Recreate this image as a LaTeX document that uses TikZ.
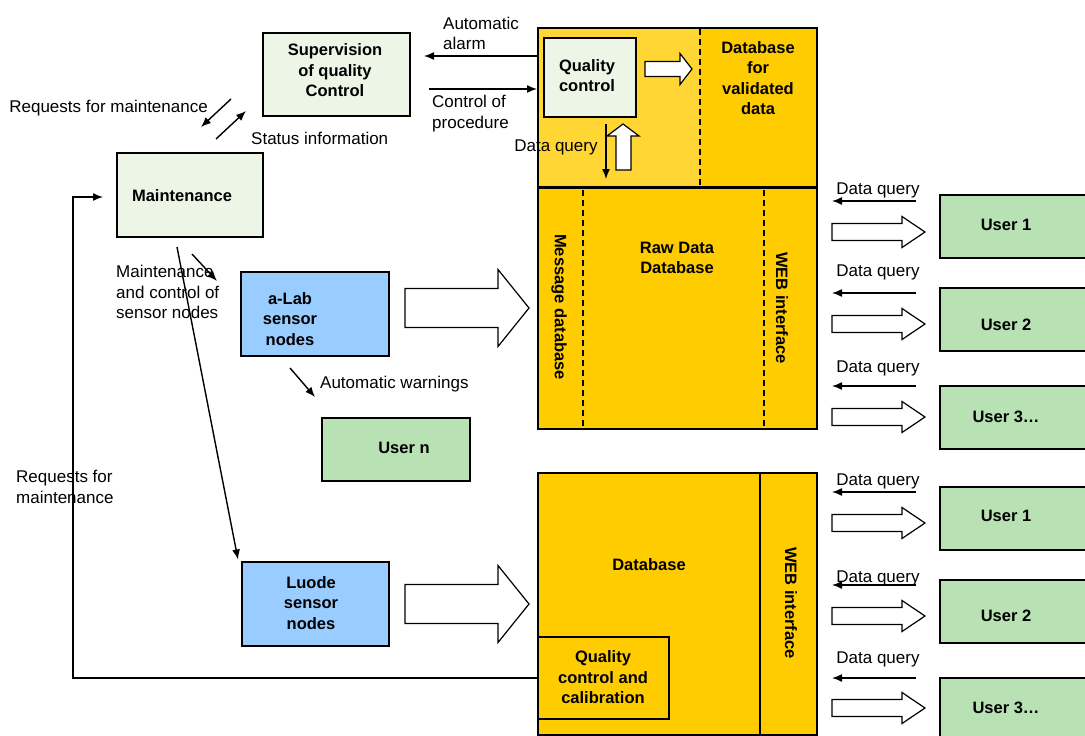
\documentclass[tikz,border=0pt]{standalone}
\usepackage{fontspec}
\setmainfont{Liberation Sans}
\usetikzlibrary{arrows.meta}
\definecolor{palegreen}{HTML}{ECF5E6}
\definecolor{usergreen}{HTML}{B9E2B4}
\definecolor{sensorblue}{HTML}{99CCFF}
\definecolor{dbyellow}{HTML}{FFCC00}
\definecolor{dblight}{HTML}{FFD633}
% hollow block arrow: x start, x tip, y, half shaft, half head, head length
\newcommand{\fatarrow}[6]{%
  \filldraw[fatline] (#1,#3-#4) -- (#2-#6,#3-#4) -- (#2-#6,#3-#5) -- (#2,#3)
    -- (#2-#6,#3+#5) -- (#2-#6,#3+#4) -- (#1,#3+#4) -- cycle;}

\begin{document}
\begin{tikzpicture}[x=1pt,y=-1pt,
		box/.style={draw=black,line width=2pt,inner sep=0pt},
		flow/.style={->,>={Latex[length=10pt,width=8pt]},line width=1.4pt},
		fatline/.style={draw=black,fill=white,line width=1.2pt},
		divider/.style={draw=black,line width=1.5pt,dash pattern=on 6pt off 4pt},
		txt/.style={font=\fontsize{17}{20.5}\selectfont,align=left,inner sep=0pt},
		btxt/.style={font=\fontsize{16.5}{20.5}\selectfont\bfseries,align=center,inner sep=0pt}
	]
		\useasboundingbox (0,0) rectangle (1085,736);

		% left side boxes
		\node[box,fill=palegreen,minimum width=147pt,minimum height=83pt] (sup) at (336.5,74.5) {};
		\node[btxt] at (335,70.5) {Supervision\\of quality\\Control};
		\node[box,fill=palegreen,minimum width=146pt,minimum height=84pt] (maint) at (190,195) {};
		\node[btxt] at (182,196) {Maintenance};
		\node[box,fill=sensorblue,minimum width=148pt,minimum height=84pt] (alab) at (315,314) {};
		\node[btxt] at (290,319) {a-Lab\\sensor\\nodes};
		\node[box,fill=usergreen,minimum width=148pt,minimum height=63pt] (usern) at (396,449.5) {};
		\node[btxt] at (404,448) {User n};
		\node[box,fill=sensorblue,minimum width=147pt,minimum height=84pt] (luode) at (315.5,603.5) {};
		\node[btxt] at (311,603) {Luode\\sensor\\nodes};

		% validated data
		\fill[dblight] (538,28) rectangle (700,187);
		\fill[dbyellow] (700,28) rectangle (817,187);
		\node[box,minimum width=279pt,minimum height=159pt] (valdb) at (677.5,107.5) {};
		\draw[divider] (700,29) -- (700,186);
		\node[btxt] at (758,78) {Database\\for\\validated\\data};
		\node[box,fill=palegreen,minimum width=92pt,minimum height=79pt] (qc) at (590,77.5) {};
		\node[btxt] at (587,75.5) {Quality\\control};
		\fatarrow{645}{692}{69}{7.5}{15.5}{12}
		\filldraw[fatline] (616,170) -- (616,136) -- (607,136) -- (623,124)
			-- (639,136) -- (631,136) -- (631,170) -- cycle;
		\draw[flow] ([xshift=16pt,yshift=-6pt]qc.south) -- ([xshift=16pt,yshift=-61pt]qc.south);
		\node[txt] at (556,147) {Data query};

		% raw data
		\node[box,fill=dbyellow,minimum width=279pt,minimum height=241pt] (rawdb) at (677.5,308.5) {};
		\draw[divider] (583,190) -- (583,428);
		\draw[divider] (764,190) -- (764,428);
		\node[btxt,rotate=-90] at (559,307) {Message database};
		\node[btxt] at (677,258) {Raw Data\\Database};
		\node[btxt,rotate=-90] at (782,308) {WEB interface};

		% luode database
		\node[box,fill=dbyellow,minimum width=279pt,minimum height=262pt] (lowdb) at (677.5,604) {};
		\draw[line width=2pt] (760,473) -- (760,735);
		\node[btxt] at (649,565) {Database};
		\node[btxt,rotate=-90] at (791,603) {WEB interface};
		\node[box,minimum width=131pt,minimum height=82pt] (qcal) at (603.5,678) {};
		\node[btxt] at (603,677.5) {Quality\\control and\\calibration};

		% users
		\foreach \n/\y/\t/\ty in {user1/226.5/User 1/225,user2/319/User 2/325,user3/417/User 3…/417,
			luser1/518.5/User 1/516,luser2/611.7/User 2/616,luser3/709.5/User 3…/708}{
			\node[box,fill=usergreen,minimum width=147pt,minimum height=63pt] (\n) at (1013.5,\y) {};
			\node[btxt] at (1006,\ty) {\t};
		}
		\foreach \y in {232,324,417,523,616,708}{
			\fatarrow{832}{925}{\y}{8.5}{15.5}{23}
		}
		\foreach \q/\l in {201/190,293/272,386/368,492/481,585/578,678/659}{
			\draw[flow] (916,\q) -- (832,\q);
			\node[txt] at (878,\l) {Data query};
		}

		\fatarrow{405}{529}{308}{19.5}{38.5}{31}
		\fatarrow{405}{529}{604}{19.5}{38.5}{31}

		% thin arrows
		\draw[flow] ([yshift=51.5pt]valdb.west) -- ([xshift=13pt,yshift=18.5pt]sup.east);
		\node[txt,anchor=west] at (443,33.5) {Automatic\\alarm};
		\draw[flow] ([xshift=18pt,yshift=-14.5pt]sup.east) -- ([xshift=-6pt,yshift=-11.5pt]qc.west);
		\node[txt,anchor=west] at (432,113.5) {Control of\\procedure};
		\draw[flow] ([xshift=-31pt,yshift=18pt]sup.south west) -- ([xshift=11pt,yshift=25pt]maint.north);
		\node[txt,anchor=east] at (208,108) {Requests for maintenance};
		\draw[flow] ([xshift=26pt,yshift=13pt]maint.north) -- ([xshift=-16pt,yshift=6pt]sup.south west);
		\node[txt,anchor=west] at (251,138) {Status information};
		\draw[flow] ([xshift=-13pt,yshift=-9pt]maint.south) -- ([xshift=-3pt,yshift=1pt]luode.north west);
		\draw[flow] ([xshift=2pt,yshift=-16pt]maint.south) -- ([xshift=-23pt,yshift=-10pt]alab.north west);
		\node[txt,anchor=west] at (116,292) {Maintenance\\and control of\\sensor nodes};
		\draw[flow] ([xshift=-25pt,yshift=-11pt]alab.south) -- ([xshift=-6pt,yshift=20pt]usern.north west);
		\node[txt,anchor=west] at (320,384) {Automatic warnings};
		\draw[flow] (qcal.west) -| ([xshift=-43pt,yshift=-2pt]maint.west)
			-- ([xshift=-13pt,yshift=-2pt]maint.west);
		\node[txt,anchor=west] at (16,487) {Requests for\\maintenance};
	\end{tikzpicture}
\end{document}
